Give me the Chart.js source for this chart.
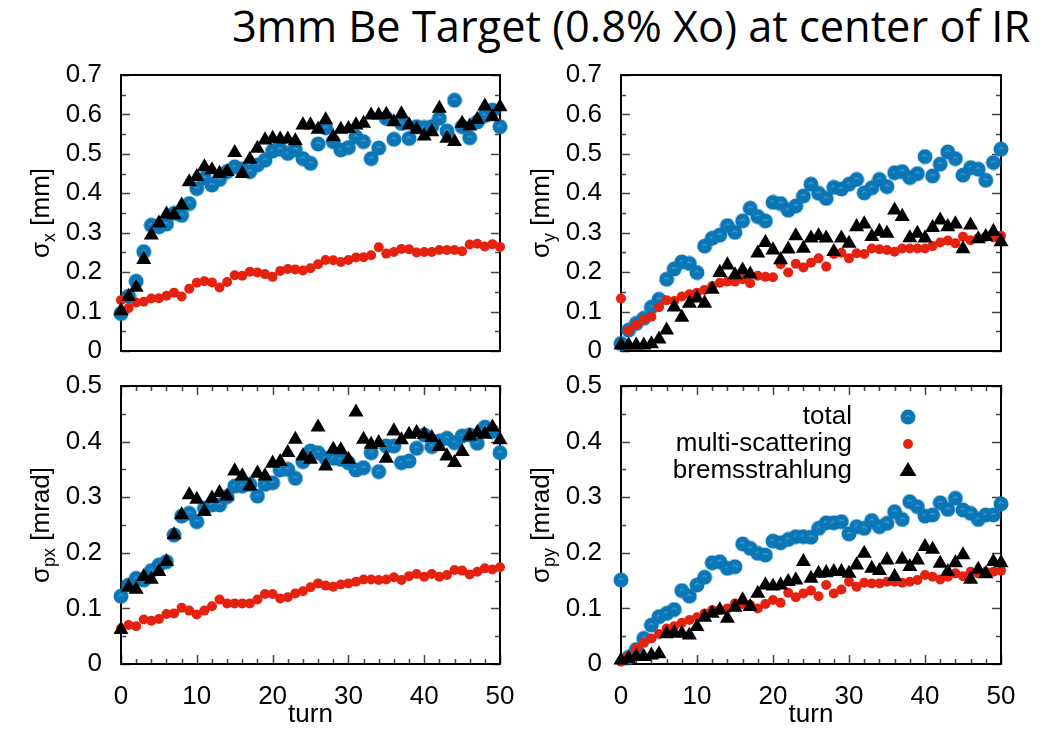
<!DOCTYPE html>
<html>
<head>
<meta charset="utf-8">
<script src="https://cdn.jsdelivr.net/npm/chart.js@4.4.1/dist/chart.umd.min.js"></script>
<style>
  body { margin: 0; background: #fff; width: 1052px; height: 730px; position: relative; overflow: hidden;
         font-family: "Liberation Sans", Arial, sans-serif; }
  canvas { position: absolute; }
  .ylab { position: absolute; font-size: 26px; white-space: nowrap; line-height: 1;
          transform: translate(-50%, -50%) rotate(-90deg); }
  .ylab sub { font-size: 18px; vertical-align: -6px; line-height: 0; }
  #title { position: absolute; right: 22px; top: 3px; font-family: "Open Sans", sans-serif; font-size: 44px;
           line-height: 1; white-space: nowrap; transform-origin: right center; color: #000; }
</style>
</head>
<body>
<div id="title">3mm Be Target (0.8% Xo) at center of IR</div>
<canvas id="cTL" width="515" height="310" style="left:0;top:55px"></canvas>
<canvas id="cTR" width="516" height="310" style="left:500px;top:55px"></canvas>
<canvas id="cBL" width="515" height="364" style="left:0;top:366px"></canvas>
<canvas id="cBR" width="516" height="364" style="left:500px;top:366px"></canvas>
<div class="ylab" style="left:40px;top:213px">σ<sub>x</sub> [mm]</div>
<div class="ylab" style="left:540px;top:213px">σ<sub>y</sub> [mm]</div>
<div class="ylab" style="left:40px;top:525px">σ<sub>px</sub> [mrad]</div>
<div class="ylab" style="left:540px;top:525px">σ<sub>py</sub> [mrad]</div>
<script>
const turns = [0, 1, 2, 3, 4, 5, 6, 7, 8, 9, 10, 11, 12, 13, 14, 15, 16, 17, 18, 19, 20,
  21, 22, 23, 24, 25, 26, 27, 28, 29, 30, 31, 32, 33, 34, 35, 36, 37, 38, 39, 40,
  41, 42, 43, 44, 45, 46, 47, 48, 49, 50];
const seriesNames = ['total', 'multi-scattering', 'bremsstrahlung'];
const turnTicks = [0, 10, 20, 30, 40, 50];

// sigma_x [mm]
const sxTotal = [0.095, 0.139, 0.177, 0.252, 0.319, 0.315, 0.322, 0.349, 0.344, 0.374, 0.412,
  0.438, 0.421, 0.435, 0.455, 0.467, 0.461, 0.455, 0.472, 0.484, 0.507, 0.512, 0.501, 0.510,
  0.488, 0.476, 0.525, 0.566, 0.531, 0.510, 0.516, 0.543, 0.531, 0.488, 0.515, 0.590, 0.537,
  0.577, 0.539, 0.569, 0.567, 0.569, 0.590, 0.558, 0.636, 0.569, 0.541, 0.581, 0.597, 0.611, 0.569];
const sxMulti = [0.129, 0.109, 0.123, 0.125, 0.133, 0.134, 0.140, 0.148, 0.138, 0.158, 0.173,
  0.177, 0.174, 0.161, 0.175, 0.192, 0.191, 0.201, 0.199, 0.195, 0.188, 0.203, 0.208, 0.207,
  0.204, 0.210, 0.220, 0.231, 0.230, 0.226, 0.231, 0.237, 0.238, 0.243, 0.263, 0.247, 0.251,
  0.259, 0.258, 0.250, 0.251, 0.251, 0.256, 0.256, 0.256, 0.253, 0.270, 0.272, 0.265, 0.271, 0.264];
const sxBrems = [0.102, 0.138, 0.161, 0.232, 0.294, 0.324, 0.347, 0.345, 0.370, 0.429, 0.442,
  0.467, 0.459, 0.450, 0.455, 0.503, 0.450, 0.486, 0.514, 0.535, 0.539, 0.537, 0.537, 0.533,
  0.573, 0.573, 0.562, 0.586, 0.543, 0.562, 0.564, 0.573, 0.577, 0.598, 0.598, 0.600, 0.581,
  0.601, 0.573, 0.562, 0.545, 0.556, 0.615, 0.539, 0.531, 0.577, 0.570, 0.587, 0.621, 0.594, 0.619];

// sigma_y [mm]
const syTotal = [0.019, 0.053, 0.070, 0.083, 0.111, 0.131, 0.182, 0.208, 0.226, 0.222, 0.199,
  0.266, 0.286, 0.294, 0.318, 0.301, 0.330, 0.362, 0.341, 0.330, 0.377, 0.374, 0.357, 0.368,
  0.393, 0.423, 0.400, 0.387, 0.415, 0.411, 0.423, 0.435, 0.401, 0.414, 0.435, 0.417, 0.452,
  0.455, 0.440, 0.450, 0.493, 0.444, 0.474, 0.505, 0.488, 0.446, 0.465, 0.461, 0.433, 0.478, 0.512];
const syMulti = [0.133, 0.053, 0.066, 0.080, 0.087, 0.111, 0.129, 0.127, 0.138, 0.144, 0.148,
  0.155, 0.165, 0.173, 0.176, 0.176, 0.182, 0.172, 0.191, 0.188, 0.187, 0.220, 0.199, 0.221,
  0.212, 0.224, 0.235, 0.214, 0.246, 0.249, 0.235, 0.248, 0.246, 0.260, 0.258, 0.256, 0.252,
  0.260, 0.260, 0.260, 0.260, 0.266, 0.275, 0.280, 0.273, 0.290, 0.281, 0.286, 0.290, 0.288, 0.292];
const syBrems = [0.015, 0.015, 0.015, 0.015, 0.018, 0.030, 0.053, 0.111, 0.085, 0.121, 0.134,
  0.121, 0.156, 0.199, 0.218, 0.193, 0.205, 0.195, 0.248, 0.275, 0.256, 0.231, 0.258, 0.292,
  0.260, 0.286, 0.292, 0.286, 0.252, 0.286, 0.273, 0.315, 0.322, 0.290, 0.303, 0.298, 0.357,
  0.341, 0.287, 0.298, 0.286, 0.313, 0.332, 0.315, 0.322, 0.259, 0.319, 0.284, 0.290, 0.303, 0.277];

// sigma_px [mrad]
const spxTotal = [0.122, 0.142, 0.154, 0.151, 0.168, 0.178, 0.184, 0.232, 0.266, 0.271, 0.256,
  0.280, 0.286, 0.286, 0.301, 0.320, 0.320, 0.323, 0.302, 0.323, 0.326, 0.349, 0.350, 0.334,
  0.364, 0.383, 0.380, 0.370, 0.370, 0.368, 0.362, 0.349, 0.353, 0.380, 0.346, 0.392, 0.392,
  0.362, 0.365, 0.388, 0.412, 0.391, 0.401, 0.406, 0.398, 0.410, 0.412, 0.397, 0.426, 0.418, 0.380];
const spxMulti = [0.064, 0.070, 0.068, 0.080, 0.078, 0.081, 0.090, 0.091, 0.101, 0.096, 0.089,
  0.096, 0.104, 0.116, 0.109, 0.109, 0.109, 0.109, 0.116, 0.126, 0.126, 0.118, 0.120, 0.127,
  0.131, 0.138, 0.145, 0.141, 0.139, 0.143, 0.145, 0.148, 0.152, 0.152, 0.151, 0.152, 0.156,
  0.151, 0.158, 0.162, 0.157, 0.162, 0.157, 0.160, 0.169, 0.168, 0.161, 0.166, 0.172, 0.170, 0.174];
const spxBrems = [0.062, 0.138, 0.134, 0.157, 0.152, 0.166, 0.184, 0.232, 0.268, 0.304, 0.296,
  0.274, 0.298, 0.308, 0.302, 0.347, 0.338, 0.320, 0.343, 0.338, 0.361, 0.364, 0.380, 0.404,
  0.374, 0.368, 0.426, 0.356, 0.386, 0.385, 0.368, 0.453, 0.404, 0.395, 0.398, 0.370, 0.419,
  0.403, 0.413, 0.416, 0.413, 0.407, 0.391, 0.374, 0.362, 0.382, 0.410, 0.416, 0.413, 0.426, 0.403];

// sigma_py [mrad]
const spyTotal = [0.151, 0.012, 0.026, 0.046, 0.070, 0.085, 0.091, 0.098, 0.132, 0.122, 0.142,
  0.156, 0.182, 0.184, 0.172, 0.175, 0.216, 0.208, 0.199, 0.196, 0.221, 0.218, 0.224, 0.229,
  0.229, 0.228, 0.244, 0.254, 0.254, 0.256, 0.234, 0.247, 0.244, 0.258, 0.247, 0.253, 0.274,
  0.260, 0.292, 0.283, 0.266, 0.268, 0.290, 0.278, 0.298, 0.277, 0.271, 0.260, 0.268, 0.268, 0.288];
const spyMulti = [0.004, 0.013, 0.028, 0.038, 0.046, 0.054, 0.064, 0.068, 0.074, 0.079, 0.084,
  0.091, 0.097, 0.097, 0.100, 0.109, 0.108, 0.106, 0.100, 0.108, 0.115, 0.110, 0.128, 0.120,
  0.127, 0.132, 0.122, 0.142, 0.127, 0.134, 0.148, 0.139, 0.146, 0.145, 0.145, 0.148, 0.148,
  0.146, 0.148, 0.151, 0.160, 0.157, 0.152, 0.157, 0.163, 0.158, 0.166, 0.163, 0.166, 0.166, 0.168];
const spyBrems = [0.007, 0.010, 0.013, 0.013, 0.016, 0.018, 0.054, 0.056, 0.055, 0.052, 0.067,
  0.084, 0.091, 0.097, 0.082, 0.102, 0.115, 0.103, 0.127, 0.142, 0.140, 0.142, 0.148, 0.151,
  0.184, 0.154, 0.163, 0.164, 0.166, 0.166, 0.163, 0.178, 0.199, 0.172, 0.168, 0.187, 0.157,
  0.188, 0.175, 0.187, 0.211, 0.206, 0.181, 0.166, 0.182, 0.196, 0.152, 0.170, 0.162, 0.184, 0.182];

const BLUE = '#0b77b7';
const RED = '#e5210f';
const FONT = { family: '"Liberation Sans", Arial, sans-serif', size: 26 };

// title squeezed to the width of the original (Calibri is narrower than Open Sans)
const titleEl = document.getElementById('title');
titleEl.style.transform = 'scaleX(' + (798 / titleEl.offsetWidth) + ')';

// blue disc with the small light arc gnuplot leaves in the middle
function makeBlueDot() {
  const c = document.createElement('canvas');
  c.width = 16; c.height = 16;
  const g = c.getContext('2d');
  g.fillStyle = BLUE;
  g.beginPath(); g.arc(8, 8, 7.5, 0, Math.PI * 2); g.fill();
  g.strokeStyle = '#63acd9'; g.lineWidth = 1;
  g.beginPath(); g.arc(8, 8.8, 2.3, Math.PI * 1.1, Math.PI * 1.9); g.stroke();
  return c;
}
const blueDot = makeBlueDot();

// frame + inward ticks on every side, gnuplot style
const frameTicks = {
  id: 'frameTicks',
  beforeDatasetsDraw(chart, args, opts) {
    const { ctx, chartArea: a, scales: { x, y } } = chart;
    ctx.save();
    ctx.strokeStyle = '#444';
    ctx.lineWidth = 1.5;
    ctx.beginPath();
    const yv = y.ticks.map(t => t.value);
    const ystep = yv[1] - yv[0];
    yv.forEach(v => {
      [[v, 9], [v + ystep / 2, 5]].forEach(([val, len]) => {
        if (val > y.max + 1e-9) return;
        const py = Math.round(y.getPixelForValue(val)) + 0.5;
        ctx.moveTo(a.left, py); ctx.lineTo(a.left + len, py);
        ctx.moveTo(a.right, py); ctx.lineTo(a.right - len, py);
      });
    });
    if (opts.xTicks) {
      x.ticks.forEach(t => {
        [0, 2, 4, 6, 8].forEach(d => {
          const val = t.value + d;
          if (val > x.max + 1e-9) return;
          const len = d === 0 ? 9 : 5;
          const px = Math.round(x.getPixelForValue(val)) + 0.5;
          ctx.moveTo(px, a.bottom); ctx.lineTo(px, a.bottom - len);
          ctx.moveTo(px, a.top); ctx.lineTo(px, a.top + len);
        });
      });
    }
    ctx.stroke();
    ctx.strokeStyle = '#000';
    ctx.lineWidth = 2;
    ctx.strokeRect(a.left, a.top, a.right - a.left, a.bottom - a.top);
    ctx.restore();
  }
};

// key drawn inside the sigma_py panel: labels right-aligned, symbols to the right
const seriesKey = {
  id: 'seriesKey',
  afterDatasetsDraw(chart) {
    const { ctx, chartArea: a } = chart;
    const textX = a.left + 231;
    const symX = a.left + 287;
    const rows = [31, 58, 85];
    ctx.save();
    ctx.font = '26px "Liberation Sans", Arial, sans-serif';
    ctx.textAlign = 'right';
    ctx.textBaseline = 'middle';
    seriesNames.forEach((name, i) => {
      const yy = a.top + rows[i];
      ctx.fillStyle = '#000';
      ctx.fillText(name, textX, yy);
      if (i === 0) {
        ctx.drawImage(blueDot, symX - 8, yy - 8);
      } else if (i === 1) {
        ctx.fillStyle = RED;
        ctx.beginPath(); ctx.arc(symX, yy, 5, 0, Math.PI * 2); ctx.fill();
      } else {
        ctx.fillStyle = '#000';
        ctx.beginPath();
        ctx.moveTo(symX, yy - 9);
        ctx.lineTo(symX + 8.5, yy + 5);
        ctx.lineTo(symX - 8.5, yy + 5);
        ctx.closePath(); ctx.fill();
      }
    });
    ctx.restore();
  }
};

function toPoints(values) {
  return turns.map((t, i) => ({ x: t, y: values[i] }));
}

function makePanel(canvasId, total, multi, brems, yMax, bottomRow, withKey) {
  const xHeight = bottomRow ? 66 : 14;
  return new Chart(document.getElementById(canvasId), {
    type: 'scatter',
    data: {
      datasets: [
        { label: seriesNames[0], data: toPoints(total), pointStyle: blueDot, pointRadius: 7.5,
          backgroundColor: BLUE, borderWidth: 0, order: 2, clip: false },
        { label: seriesNames[1], data: toPoints(multi), pointStyle: 'circle', pointRadius: 5,
          backgroundColor: RED, borderWidth: 0, order: 1, clip: false },
        { label: seriesNames[2], data: toPoints(brems), pointStyle: 'triangle', pointRadius: 8.7,
          backgroundColor: '#000', borderWidth: 0, order: 0, clip: false },
      ],
    },
    options: {
      responsive: false,
      animation: false,
      devicePixelRatio: 1,
      layout: { padding: { top: 20, right: 15, left: 0, bottom: 0 } },
      plugins: {
        legend: { display: false },
        tooltip: { enabled: false },
        frameTicks: { xTicks: bottomRow },
      },
      scales: {
        x: {
          type: 'linear', min: 0, max: 50,
          grid: { display: false, drawTicks: false },
          border: { display: false },
          afterBuildTicks: (s) => { s.ticks = turnTicks.map(v => ({ value: v })); },
          ticks: { display: bottomRow, padding: 17, font: FONT, color: '#000', maxRotation: 0, autoSkip: false },
          title: { display: bottomRow, text: 'turn', font: FONT, color: '#000', padding: { top: 0, bottom: 0 } },
          afterFit: (s) => { s.height = xHeight; s.paddingLeft = 0; s.paddingRight = 0; },
        },
        y: {
          min: 0, max: yMax,
          grid: { display: false, drawTicks: false },
          border: { display: false },
          ticks: { stepSize: 0.1, padding: 19, font: FONT, color: '#000' },
          afterFit: (s) => { s.width = 121; s.paddingTop = 0; s.paddingBottom = 0; },
        },
      },
    },
    plugins: withKey ? [frameTicks, seriesKey] : [frameTicks],
  });
}

makePanel('cTL', sxTotal, sxMulti, sxBrems, 0.7, false, false);
makePanel('cTR', syTotal, syMulti, syBrems, 0.7, false, false);
makePanel('cBL', spxTotal, spxMulti, spxBrems, 0.5, true, false);
makePanel('cBR', spyTotal, spyMulti, spyBrems, 0.5, true, true);
</script>
</body>
</html>
